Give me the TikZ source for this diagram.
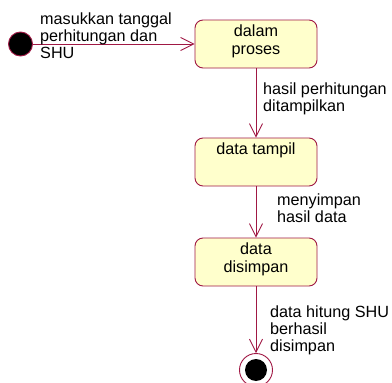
\documentclass[tikz,border=0pt]{standalone}
\usepackage{fontspec}
\setmainfont{Liberation Sans}
\usetikzlibrary{arrows.meta}
\definecolor{umlred}{HTML}{A01844}
\definecolor{umlfill}{HTML}{FFFFCC}
\tikzset{
  statebox/.style={draw=umlred, fill=umlfill, rounded corners=8pt, line width=0.9pt,
    minimum width=122pt, minimum height=48pt, inner sep=0pt},
  trans/.style={draw=umlred, line width=0.9pt, -{Straight Barb[length=13pt,width=13pt,line width=0.9pt]}},
  lbl/.style={align=left, font=\fontsize{16.2}{17}\selectfont, inner sep=0pt, anchor=north west},
  boxtxt/.style={align=center, font=\fontsize{16.2}{18}\selectfont, inner sep=0pt}
}
\begin{document}
\begin{tikzpicture}[x=1pt,y=-1pt]
\useasboundingbox (0,0) rectangle (392,383);
\node[statebox] (s1) at (256,44) {};
\node[statebox] (s2) at (256,162) {};
\node[statebox] (s3) at (256,262) {};
\node[boxtxt] (t1) at (256,41) {dalam\\proses};
\node[boxtxt, anchor=base] (t2) at (256,154) {data tampil};
\node[boxtxt] (t3) at (256,259) {data\\disimpan};
\node[circle, fill=black, draw=umlred, line width=0.9pt, minimum size=24pt, inner sep=0pt] (i) at (20.5,44) {};
\node[circle, draw=umlred, fill=white, line width=0.9pt, minimum size=33pt, inner sep=0pt] (f) at (256,370) {};
\node[circle, fill=black, minimum size=22pt, inner sep=0pt] (fi) at (f) {};
\draw[trans] (i) -- (s1.west);
\draw[trans] (s1.south) -- (s2.north);
\draw[trans] (s2.south) -- (s3.north);
\draw[trans] (s3.south) -- (f.north);
\node[lbl] (l1) at (40,13) {masukkan tanggal\\perhitungan dan\\SHU};
\node[lbl] (l2) at (263,83) {hasil perhitungan\\ditampilkan};
\node[lbl] (l3) at (277,194) {menyimpan\\hasil data};
\node[lbl] (l4) at (270,306) {data hitung SHU\\berhasil\\disimpan};
\end{tikzpicture}
\end{document}
